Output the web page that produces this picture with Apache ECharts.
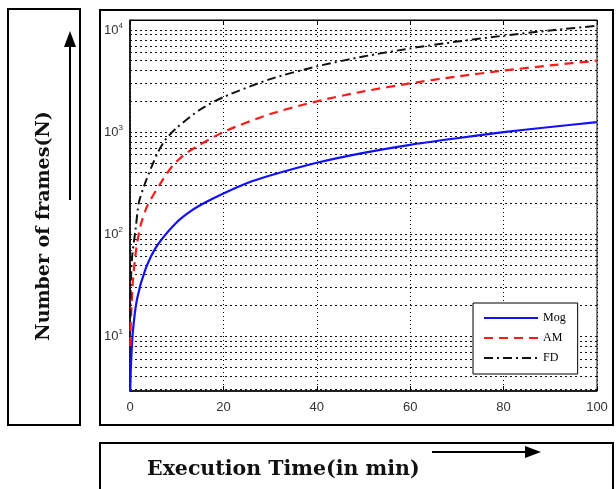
<!DOCTYPE html>
<html>
<head>
<meta charset="utf-8">
<script src="https://cdn.jsdelivr.net/npm/echarts@6/dist/echarts.min.js"></script>
<style>
  html, body { margin: 0; padding: 0; background: #fff; }
  #chart { width: 616px; height: 489px; }
</style>
</head>
<body>
<div id="chart"></div>
<script>
// readings (time in min, frames)
const mogT = [0.05, 0.18, 0.6, 1.5, 3.3, 5.8, 9.8, 13, 16.2, 20, 25, 30, 40, 50, 60, 70, 80, 90, 100]
const mogN = [2.9, 4.9, 10.9, 23, 45, 77, 128, 168, 205, 250, 315, 375, 500, 625, 750, 870, 1000, 1120, 1250]

const amT = [0.08, 0.17, 0.6, 1.33, 2.25, 3.7, 6.2, 9, 12.3, 20, 30, 40, 50, 60, 70, 80, 90, 100]
const amN = [8, 13.6, 34, 71, 121, 189, 297, 460, 632, 1000, 1500, 2000, 2500, 3000, 3500, 4000, 4500, 5000]

const fdT = [0.05, 0.17, 0.47, 1.2, 1.9, 3.3, 5.8, 7.5, 10, 15, 20, 30, 40, 50, 60, 70, 80, 90, 100]
const fdN = [15, 34, 61, 112, 204, 321, 610, 830, 1100, 1660, 2200, 3300, 4400, 5500, 6600, 7700, 8800, 9900, 11000]

// horizontal grid values on the log axis
const decades = [10, 100, 1000, 10000]
const minorVals = [3, 4, 5, 6, 7, 8, 9, 20, 30, 40, 50, 60, 70, 80, 90,
  200, 300, 400, 500, 600, 700, 800, 900, 2000, 3000, 4000, 5000, 6000, 7000, 8000, 9000]

const chart = echarts.init(document.getElementById('chart'))

const pairs = (t, n) => t.map((v, i) => [v, n[i]])

const gridLines = [
  ...minorVals.map(v => ({ yAxis: v, label: { show: false } })),
  ...decades.map(v => ({
    yAxis: v,
    label: { show: true, formatter: '10{s|' + Math.log10(v) + '}' }
  }))
]

const option = {
  animation: false,
  backgroundColor: '#fff',
  grid: {
    left: 130,
    right: 19,
    top: 20,
    bottom: 98,
    show: true,
    borderColor: '#000',
    borderWidth: 1
  },
  legend: {
    orient: 'vertical',
    left: 473,
    top: 303,
    itemWidth: 54,
    itemHeight: 14,
    itemGap: 8,
    itemStyle: { opacity: 0 },
    padding: [9, 12, 10, 10],
    backgroundColor: '#fff',
    borderColor: '#000',
    borderWidth: 1,
    textStyle: { fontFamily: 'Liberation Serif', fontSize: 12, color: '#000' },
    data: ['Mog', 'AM', 'FD']
  },
  xAxis: [
    {
      type: 'value',
      min: 0,
      max: 100,
      interval: 20,
      axisLine: { lineStyle: { color: '#000', width: 1.5 } },
      axisTick: { inside: true, length: 5, lineStyle: { color: '#000' } },
      axisLabel: { margin: 10, fontFamily: 'Liberation Sans', fontSize: 13, color: '#333' },
      splitLine: { show: true, lineStyle: { color: '#000', type: [1, 3], width: 1 } }
    },
    {
      type: 'value',
      position: 'top',
      min: 0,
      max: 100,
      interval: 20,
      axisLine: { lineStyle: { color: '#000' } },
      axisTick: { inside: true, length: 5, lineStyle: { color: '#000' } },
      axisLabel: { show: false },
      splitLine: { show: false }
    }
  ],
  yAxis: {
    type: 'log',
    min: 2.9,
    max: 12530,
    axisLine: { lineStyle: { color: '#000', width: 1.5 } },
    axisTick: { show: false },
    axisLabel: { show: false },
    splitLine: { show: false }
  },
  series: [
    {
      name: 'Mog',
      type: 'line',
      showSymbol: false,
      symbol: 'none',
      z: 5,
      lineStyle: { color: '#1010ff', width: 2.2 },
      itemStyle: { color: '#1010ff' },
      data: pairs(mogT, mogN),
      smooth: 0.25,
      markLine: {
        silent: true,
        symbol: 'none',
        z: 1,
        animation: false,
        lineStyle: { color: '#111', type: [2, 3], width: 1 },
        label: {
          position: 'start',
          distance: 7,
          fontFamily: 'Liberation Sans',
          fontSize: 13,
          color: '#333',
          rich: { s: { fontSize: 8, padding: [0, 0, 9, 0], color: '#333' } }
        },
        emphasis: { disabled: true },
        data: gridLines
      }
    },
    {
      name: 'AM',
      type: 'line',
      showSymbol: false,
      symbol: 'none',
      z: 6,
      lineStyle: { color: '#ff1a1a', width: 2.2, type: [9, 6] },
      itemStyle: { color: '#ff1a1a' },
      data: pairs(amT, amN),
      smooth: 0.25
    },
    {
      name: 'FD',
      type: 'line',
      showSymbol: false,
      symbol: 'none',
      z: 7,
      lineStyle: { color: '#111', width: 2, type: [9, 4, 2, 4] },
      itemStyle: { color: '#111' },
      data: pairs(fdT, fdN),
      smooth: 0.25
    }
  ],
  graphic: [
    // y label box
    { type: 'rect', shape: { x: 8, y: 9, width: 72, height: 416 },
      style: { fill: 'none', stroke: '#000', lineWidth: 2 }, silent: true },
    // chart frame
    { type: 'rect', shape: { x: 100, y: 10, width: 513, height: 415 },
      style: { fill: 'none', stroke: '#000', lineWidth: 2 }, silent: true },
    // x label box
    { type: 'rect', shape: { x: 100, y: 443, width: 513, height: 80 },
      style: { fill: 'none', stroke: '#000', lineWidth: 2 }, silent: true },
    {
      type: 'text', x: 44, y: 226, rotation: Math.PI / 2,
      style: {
        text: 'Number of frames(N)', fontFamily: 'DejaVu Serif', fontWeight: 'bold',
        fontSize: 19, fill: '#111', align: 'center', verticalAlign: 'middle'
      }
    },
    { type: 'line', shape: { x1: 70, y1: 200, x2: 70, y2: 45 }, style: { stroke: '#000', lineWidth: 2 } },
    { type: 'polygon', shape: { points: [[70, 31], [64, 47], [76, 47]] }, style: { fill: '#000' } },
    {
      type: 'text', x: 147, y: 470,
      style: {
        text: 'Execution Time(in min)', fontFamily: 'DejaVu Serif', fontWeight: 'bold',
        fontSize: 20.5, fill: '#111', align: 'left', verticalAlign: 'middle'
      }
    },
    { type: 'line', shape: { x1: 432, y1: 452, x2: 526, y2: 452 }, style: { stroke: '#000', lineWidth: 2 } },
    { type: 'polygon', shape: { points: [[541, 452], [525, 446], [525, 458]] }, style: { fill: '#000' } }
  ]
}

chart.setOption(option)
</script>
</body>
</html>
